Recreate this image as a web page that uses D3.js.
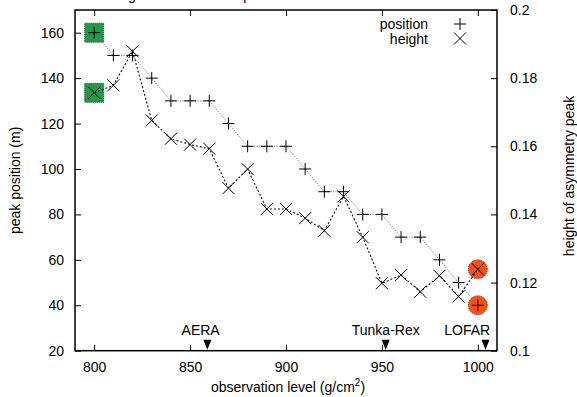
<!DOCTYPE html>
<html>
<head>
<meta charset="utf-8">
<script src="https://cdn.jsdelivr.net/npm/d3@7/dist/d3.min.js"></script>
<style>
  html, body { margin: 0; padding: 0; background: #fff; }
  svg { display: block; font-family: "Liberation Sans", Arial, Helvetica, sans-serif; }
</style>
</head>
<body>
<svg id="chart" width="577" height="397"></svg>
<script>
// observation levels (g/cm^2)
const levels = [800, 810, 820, 830, 840, 850, 860, 870, 880, 890, 900,
                910, 920, 930, 940, 950, 960, 970, 980, 990, 1000];
// peak position (m), left axis
const position = [160, 150, 150, 140, 130, 130, 130, 120, 110, 110, 110,
                  100, 90, 90, 80, 80, 70, 70, 60, 50, 40];
// height of asymmetry peak, right axis
const height = [0.1757, 0.1779, 0.1879, 0.1676, 0.1622, 0.1605, 0.1593, 0.1477, 0.1533, 0.1416, 0.1416,
                0.1389, 0.1352, 0.1453, 0.1333, 0.1198, 0.1222, 0.1173, 0.1220, 0.1159, 0.1239];

const xTicks = [800, 850, 900, 950, 1000];
const yLeftTicks = [20, 40, 60, 80, 100, 120, 140, 160];
const yRightTicks = [0.1, 0.12, 0.14, 0.16, 0.18, 0.2];

// experiments marked on the level axis: name, level, label centre
const sites = ["AERA", "Tunka-Rex", "LOFAR"];
const siteLevels = [859, 952, 1004];
const siteLabelAt = [855.5, 952, 994.5];

const svg = d3.select("#chart");
const L = 75, R = 497, T = 10, B = 350.7;

const x = d3.scaleLinear().domain([790, 1010]).range([L, R]);
const yL = d3.scaleLinear().domain([20, 170]).range([B, T]);
const yR = d3.scaleLinear().domain([0.1, 0.2]).range([B, T]);

const FS = 14;

// title, sitting mostly above the top edge of the page
const titleText = "Shifting of the maximum peak";
const title = svg.append("text")
  .attr("y", 0).attr("font-size", FS).attr("fill", "#000").text(titleText);
const prefixLen = title.node().getSubStringLength(0, 7); // up to the "g"
title.attr("x", 128 - prefixLen);

// axes with inward ticks
const tick = 6;
const axB = d3.axisBottom(x).tickValues(xTicks).tickSize(-tick).tickPadding(11).tickFormat(d3.format("d"));
const axT = d3.axisTop(x).tickValues(xTicks).tickSize(-tick).tickFormat("");
const axL = d3.axisLeft(yL).tickValues(yLeftTicks).tickSize(-tick).tickPadding(11).tickFormat(d3.format("d"));
const axR = d3.axisRight(yR).tickValues(yRightTicks).tickSize(-tick).tickPadding(13).tickFormat(d => d3.format("")(+d.toFixed(2)));

function styleAxis(g) {
  g.select(".domain").remove();
  g.selectAll(".tick line").attr("stroke", "#000").attr("stroke-width", 1);
  g.selectAll(".tick text").attr("font-size", FS).attr("fill", "#000")
    .attr("font-family", "Liberation Sans, Arial, sans-serif");
}
svg.append("g").attr("transform", `translate(0,${B})`).call(axB).call(styleAxis);
svg.append("g").attr("transform", `translate(0,${T})`).call(axT).call(styleAxis);
svg.append("g").attr("transform", `translate(${L},0)`).call(axL).call(styleAxis);
svg.append("g").attr("transform", `translate(${R},0)`).call(axR).call(styleAxis);

// frame
svg.append("rect").attr("x", L).attr("y", T).attr("width", R - L).attr("height", B - T)
  .attr("fill", "none").attr("stroke", "#000").attr("stroke-width", 1.5);

// axis titles
svg.append("text").attr("font-size", FS).attr("text-anchor", "middle")
  .attr("transform", `translate(19.5,${(T + B) / 2}) rotate(-90)`).text("peak position (m)");
svg.append("text").attr("font-size", FS).attr("text-anchor", "middle")
  .attr("transform", `translate(574,176) rotate(-90)`).text("height of asymmetry peak");
const xl = svg.append("text").attr("font-size", FS).attr("text-anchor", "middle")
  .attr("x", 288).attr("y", 392);
xl.append("tspan").text("observation level (g/cm");
xl.append("tspan").attr("font-size", 10).attr("dy", -6).text("2");
xl.append("tspan").attr("dy", 6).text(")");

// highlighted end points: squares at the first level, circles at the last
const first = 0, last = levels.length - 1;
const hl = svg.append("g");
[[levels[first], yL(position[first])], [levels[first], yR(height[first])]].forEach(([lv, py]) => {
  hl.append("rect").attr("x", x(lv) - 9.5).attr("y", py - 9.5).attr("width", 19).attr("height", 19)
    .attr("fill", "#1f9a4b").attr("stroke", "#2c4a33").attr("stroke-width", 1)
    .attr("stroke-dasharray", "1,1");
});
[[levels[last], yL(position[last])], [levels[last], yR(height[last])]].forEach(([lv, py]) => {
  hl.append("circle").attr("cx", x(lv)).attr("cy", py).attr("r", 9.5)
    .attr("fill", "#ff4f0f").attr("stroke", "#6a3020").attr("stroke-width", 1)
    .attr("stroke-dasharray", "1,1");
});

// connecting lines
const posLine = d3.line().x((d, i) => x(levels[i])).y(d => yL(d));
const hLine = d3.line().x((d, i) => x(levels[i])).y(d => yR(d));
svg.append("path").attr("d", posLine(position)).attr("fill", "none")
  .attr("stroke", "#777").attr("stroke-width", 0.9).attr("stroke-dasharray", "1.2,1.3");
svg.append("path").attr("d", hLine(height)).attr("fill", "none")
  .attr("stroke", "#111").attr("stroke-width", 1.1).attr("stroke-dasharray", "2,2");

// point symbols
function plus(g, cx, cy, s) {
  g.append("path").attr("d", `M${cx - s},${cy}H${cx + s}M${cx},${cy - s}V${cy + s}`)
    .attr("stroke", "#000").attr("stroke-width", 1).attr("fill", "none");
}
function cross(g, cx, cy, s) {
  g.append("path").attr("d", `M${cx - s},${cy - s}L${cx + s},${cy + s}M${cx - s},${cy + s}L${cx + s},${cy - s}`)
    .attr("stroke", "#000").attr("stroke-width", 1).attr("fill", "none");
}
const pts = svg.append("g");
position.forEach((v, i) => plus(pts, x(levels[i]), yL(v), 6));
height.forEach((v, i) => cross(pts, x(levels[i]), yR(v), 6));

// legend
const lg = svg.append("g").attr("font-size", FS);
lg.append("text").attr("x", 428).attr("y", 29).attr("text-anchor", "end").text("position");
plus(lg, 460, 24, 6);
lg.append("text").attr("x", 428).attr("y", 43.5).attr("text-anchor", "end").text("height");
cross(lg, 460, 38.5, 6);

// experiment markers
sites.forEach((name, i) => {
  const px = x(siteLevels[i]);
  svg.append("path").attr("d", `M${px - 4},${B - 11}L${px + 4},${B - 11}L${px},${B - 1}Z`).attr("fill", "#000");
  svg.append("text").attr("font-size", FS).attr("text-anchor", "middle")
    .attr("x", x(siteLabelAt[i])).attr("y", 335).text(name);
});
</script>
</body>
</html>
